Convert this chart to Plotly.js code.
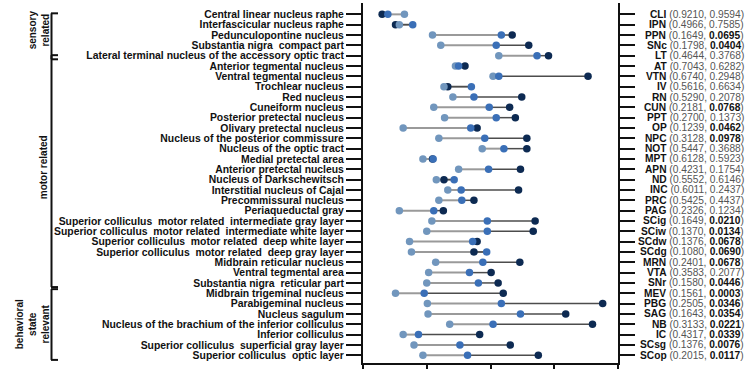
<!DOCTYPE html>
<html>
<head>
<meta charset="utf-8">
<script src="https://cdn.plot.ly/plotly-3.0.1.min.js"></script>
<style>html,body{margin:0;padding:0;background:#fff;}#chart{width:755px;height:369px;}</style>
</head>
<body>
<div id="chart"></div>
<script>
// ---------- DATA ----------
const regionNames = [
  "Central linear nucleus raphe",
  "Interfascicular nucleus raphe",
  "Pedunculopontine nucleus",
  "Substantia nigra  compact part",
  "Lateral terminal nucleus of the accessory optic tract",
  "Anterior tegmental nucleus",
  "Ventral tegmental nucleus",
  "Trochlear nucleus",
  "Red nucleus",
  "Cuneiform nucleus",
  "Posterior pretectal nucleus",
  "Olivary pretectal nucleus",
  "Nucleus of the posterior commissure",
  "Nucleus of the optic tract",
  "Medial pretectal area",
  "Anterior pretectal nucleus",
  "Nucleus of Darkschewitsch",
  "Interstitial nucleus of Cajal",
  "Precommissural nucleus",
  "Periaqueductal gray",
  "Superior colliculus  motor related  intermediate gray layer",
  "Superior colliculus  motor related  intermediate white layer",
  "Superior colliculus  motor related  deep white layer",
  "Superior colliculus  motor related  deep gray layer",
  "Midbrain reticular nucleus",
  "Ventral tegmental area",
  "Substantia nigra  reticular part",
  "Midbrain trigeminal nucleus",
  "Parabigeminal nucleus",
  "Nucleus sagulum",
  "Nucleus of the brachium of the inferior colliculus",
  "Inferior colliculus",
  "Superior colliculus  superficial gray layer",
  "Superior colliculus  optic layer"
];
const abbrs = ["CLI","IPN","PPN","SNc","LT","AT","VTN","IV","RN","CUN","PPT","OP","NPC","NOT","MPT","APN","ND","INC","PRC","PAG","SCig","SCiw","SCdw","SCdg","MRN","VTA","SNr","MEV","PBG","SAG","NB","IC","SCsg","SCop"];
const pFirst  = [0.9210,0.4966,0.1649,0.1798,0.4644,0.7043,0.6740,0.5616,0.5290,0.2181,0.2700,0.1239,0.3128,0.5447,0.6128,0.4231,0.5552,0.6011,0.5425,0.2326,0.1649,0.1370,0.1376,0.1080,0.2401,0.3583,0.1580,0.1561,0.2505,0.1643,0.3133,0.4317,0.1376,0.2015];
const pSecond = [0.9594,0.7585,0.0695,0.0404,0.3768,0.6282,0.2948,0.6634,0.2078,0.0768,0.1373,0.0462,0.0978,0.3688,0.5923,0.1754,0.6146,0.2437,0.4437,0.1234,0.0210,0.0134,0.0678,0.0690,0.0678,0.2077,0.0446,0.0003,0.0346,0.0354,0.0221,0.0339,0.0076,0.0117];
// three series (light, medium, dark)
const lightVals  = [0.65,0.57,1.09,1.22,2.13,1.45,2.04,1.27,1.41,1.11,1.28,0.63,1.19,1.87,0.94,1.50,1.15,1.33,1.19,0.57,1.08,1.00,0.73,0.76,1.14,1.03,1.00,0.51,1.01,1.02,1.36,0.63,0.80,0.94];
const mediumVals = [0.39,0.78,2.17,2.09,2.73,1.50,2.13,1.70,1.74,1.98,2.09,1.69,1.91,2.21,1.10,1.97,1.43,1.54,1.55,1.11,1.95,1.95,1.72,1.94,1.88,1.67,1.81,0.96,2.17,2.47,2.04,0.87,1.52,1.64];
const darkVals   = [0.30,0.51,2.34,2.60,2.91,1.60,3.53,1.33,2.49,2.30,2.39,1.79,2.57,2.57,1.09,2.47,1.27,2.44,1.74,1.26,2.70,2.67,1.79,1.74,2.46,2.01,2.12,2.20,3.76,3.18,3.60,1.83,2.31,2.75];
const groupLabels = ["sensory<br>related", "motor related", "behavioral<br>state<br>relevant"];
const groupFirstRow = [0, 4, 27];
const groupLastRow  = [3, 26, 33];

// ---------- BUILD ----------
const cats = regionNames.map(n => n.replace(/  /g, " \u00a0"));
const fmt = v => v.toFixed(4);
const pv = v => v < 0.1 ? `<b>${fmt(v)}</b>` : `<span style="color:#555">${fmt(v)}</span>`;

const segLM = {x: [], y: []}, segMD = {x: [], y: []};
cats.forEach((c, i) => {
  segLM.x.push(lightVals[i], mediumVals[i], null); segLM.y.push(c, c, null);
  segMD.x.push(mediumVals[i], darkVals[i], null); segMD.y.push(c, c, null);
});

const traces = [
  {type: 'scatter', mode: 'lines', x: segLM.x, y: segLM.y, line: {color: '#9a9a9a', width: 2}, hoverinfo: 'skip'},
  {type: 'scatter', mode: 'lines', x: segMD.x, y: segMD.y, line: {color: '#4d4d4d', width: 1.5}, hoverinfo: 'skip'},
  {type: 'scatter', mode: 'markers', x: darkVals, y: cats, marker: {color: '#0d2a52', size: 7.5}},
  {type: 'scatter', mode: 'markers', x: lightVals, y: cats, marker: {color: '#7196bd', size: 7.5}},
  {type: 'scatter', mode: 'markers', x: mediumVals, y: cats, marker: {color: '#3a6fb7', size: 7.5}}
];

const L = 363, R = 618;
const px2paper = p => (p - L) / (R - L);
const fam = 'Liberation Sans, Arial, sans-serif';

const annotations = cats.map((c, i) => ({
  xref: 'paper', yref: 'y', x: px2paper(746), y: c, xanchor: 'right', yanchor: 'middle',
  showarrow: false, font: {family: fam, size: 10.2, color: '#111'},
  text: `<b>${abbrs[i]}</b><span style="color:#555"> (</span>${pv(pFirst[i])}<span style="color:#555">, </span>${pv(pSecond[i])}<span style="color:#555">)</span>`
}));

// group brackets
const bracketOffsets = [[-0.1, 4.35], [3.95, 26.4], [26.6, 33.45]];
const labelX = [38.5, 43, 32];
const shapes = [];
const bx = px2paper(51.5), bx2 = px2paper(58);
groupLabels.forEach((g, k) => {
  const y0 = bracketOffsets[k][0], y1 = bracketOffsets[k][1];
  const ln = {color: '#111', width: 2};
  shapes.push({type: 'line', xref: 'paper', yref: 'y', x0: bx, x1: bx, y0: y0, y1: y1, line: ln});
  shapes.push({type: 'line', xref: 'paper', yref: 'y', x0: bx - 0.002, x1: bx2, y0: y0, y1: y0, line: ln});
  shapes.push({type: 'line', xref: 'paper', yref: 'y', x0: bx - 0.002, x1: bx2, y0: y1, y1: y1, line: ln});
  annotations.push({
    xref: 'paper', yref: 'y', x: px2paper(labelX[k]),
    y: (groupFirstRow[k] + groupLastRow[k]) / 2 + (k === 1 ? -0.2 : 0),
    xanchor: 'center', yanchor: 'middle', textangle: -90, showarrow: false,
    text: `<b>${g}</b>`, font: {family: fam, size: 10, color: '#111'}
  });
});

const layout = {
  width: 755, height: 369,
  margin: {l: L, r: 755 - R, t: 3, b: 6, pad: 0},
  paper_bgcolor: '#fff', plot_bgcolor: '#fff',
  showlegend: false,
  font: {family: fam, size: 10, color: '#111'},
  xaxis: {
    range: [0, 4], tickvals: [0, 1, 2, 3, 4], showticklabels: false,
    ticks: 'outside', ticklen: 8, tickwidth: 2, tickcolor: '#111',
    showline: true, linewidth: 2, linecolor: '#111', showgrid: false, zeroline: false, fixedrange: true
  },
  yaxis: {
    type: 'category', categoryorder: 'array', categoryarray: cats,
    tickmode: 'array', tickvals: cats, ticktext: cats,
    range: [33.75, -1.1],
    ticks: 'outside', ticklen: 15, tickwidth: 2, tickcolor: '#111',
    showline: true, linewidth: 2, linecolor: '#111', mirror: 'ticks',
    showgrid: false, zeroline: false, automargin: false,
    tickfont: {family: fam, size: 10.4, color: '#111', weight: 'bold'}
  },
  shapes: shapes,
  annotations: annotations
};

Plotly.newPlot('chart', traces, layout, {displayModeBar: false, staticPlot: true});
</script>
</body>
</html>
